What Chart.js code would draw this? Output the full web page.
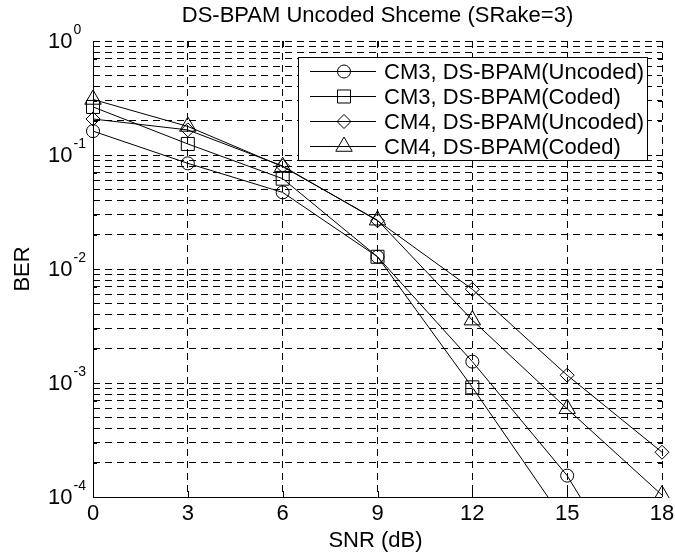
<!DOCTYPE html>
<html>
<head>
<meta charset="utf-8">
<script src="https://cdn.jsdelivr.net/npm/chart.js@4"></script>
<style>
  html, body { margin: 0; padding: 0; background: #fff; }
  #wrap { width: 675px; height: 557px; }
</style>
</head>
<body>
<div id="wrap"><canvas id="ber" width="675" height="557"></canvas></div>
<script>
// values
const snr = [0, 3, 6, 9, 12, 15, 18];
const cm3Uncoded = [0.162, 0.0845, 0.047, 0.0128, 0.00154, 0.000154, 0.0000066];
const cm3Coded = [0.264, 0.125, 0.062, 0.0128, 0.000916, 0.000057, null];
const cm4Uncoded = [0.207, 0.166, 0.080, 0.0265, 0.00664, 0.00117, 0.000247];
const cm4Coded = [0.307, 0.178, 0.079, 0.0268, 0.00356, 0.000594, 0.000104];

const seriesNames = [
    "CM3, DS-BPAM(Uncoded)",
    "CM3, DS-BPAM(Coded)",
    "CM4, DS-BPAM(Uncoded)",
    "CM4, DS-BPAM(Coded)"
];
const xTicks = [0, 3, 6, 9, 12, 15, 18];
const yDecades = [1e-4, 1e-3, 1e-2, 1e-1, 1];
const yExponents = ["-4", "-3", "-2", "-1", "0"];

const FONT = "'Liberation Sans', Arial, sans-serif";

// marker shapes, close to matlab o, s, d, ^
const markers = [
    { pointStyle: "circle", radius: 6.5 },
    { pointStyle: "rect", radius: 9.2 },
    { pointStyle: "rectRot", radius: 7 },
    { pointStyle: "triangle", radius: 9.5 }
];

function makeSet(i, values) {
    return {
        label: seriesNames[i],
        data: snr.map((x, k) => ({ x: x, y: values[k] })),
        borderColor: "#000",
        borderWidth: 1,
        backgroundColor: "rgba(0,0,0,0)",
        pointStyle: markers[i].pointStyle,
        pointRadius: markers[i].radius,
        pointBorderColor: "#000",
        pointBackgroundColor: "rgba(0,0,0,0)",
        pointBorderWidth: 1,
        pointHoverRadius: markers[i].radius,
        tension: 0,
        spanGaps: false,
        clip: { left: 12, top: 12, right: 12, bottom: 1 }
    };
}

// titles, y labels with exponents, ticks, axes and the legend box
const decorPlugin = {
    id: "decor",
    afterDraw(chart) {
        const ctx = chart.ctx;
        const area = chart.chartArea;
        const xs = chart.scales.x;
        const ys = chart.scales.y;
        ctx.save();
        ctx.fillStyle = "#000";
        ctx.strokeStyle = "#000";
        ctx.lineWidth = 1;

        // axis lines, left and bottom solid
        ctx.beginPath();
        ctx.moveTo(Math.round(area.left) + 0.5, area.top);
        ctx.lineTo(Math.round(area.left) + 0.5, Math.round(area.bottom) + 0.5);
        ctx.lineTo(area.right, Math.round(area.bottom) + 0.5);
        ctx.stroke();

        // inward tick marks
        ctx.beginPath();
        xTicks.forEach(v => {
            const px = Math.round(xs.getPixelForValue(v)) + 0.5;
            ctx.moveTo(px, area.bottom); ctx.lineTo(px, area.bottom - 6);
            ctx.moveTo(px, area.top); ctx.lineTo(px, area.top + 6);
        });
        ys.ticks.forEach(t => {
            const py = Math.round(ys.getPixelForValue(t.value)) + 0.5;
            const len = yDecades.includes(t.value) ? 6 : 4;
            ctx.moveTo(area.left, py); ctx.lineTo(area.left + len, py);
            ctx.moveTo(area.right, py); ctx.lineTo(area.right - len, py);
        });
        ctx.stroke();

        // y labels 10^n
        yDecades.forEach((v, i) => {
            const py = ys.getPixelForValue(v);
            ctx.font = "22px " + FONT;
            ctx.textAlign = "left";
            ctx.textBaseline = "alphabetic";
            ctx.fillText("10", 48, py + 7);
            const w = ctx.measureText("10").width;
            ctx.font = "14px " + FONT;
            ctx.fillText(yExponents[i], 48 + w + 1, py - 7);
        });

        // title and axis titles
        const cx = (area.left + area.right) / 2;
        ctx.font = "22px " + FONT;
        ctx.textAlign = "center";
        ctx.textBaseline = "middle";
        ctx.fillText("DS-BPAM Uncoded Shceme (SRake=3)", cx, 16);
        ctx.fillText("SNR (dB)", cx - 2, 541);
        ctx.save();
        ctx.translate(23, (area.top + area.bottom) / 2);
        ctx.rotate(-Math.PI / 2);
        ctx.fillText("BER", 0, 0);
        ctx.restore();

        // legend box
        const bx = 298.5, by = 57.5, bw = 349, bh = 103;
        ctx.fillStyle = "#fff";
        ctx.fillRect(bx, by, bw, bh);
        ctx.strokeRect(bx, by, bw, bh);
        ctx.textAlign = "left";
        ctx.font = "22px " + FONT;
        chart.data.datasets.forEach((ds, i) => {
            const ry = Math.round(71 + i * 25) + 0.5;
            ctx.beginPath();
            ctx.moveTo(310, ry);
            ctx.lineTo(376, ry);
            ctx.stroke();
            ctx.fillStyle = "rgba(0,0,0,0)";
            Chart.helpers.drawPoint(ctx, {
                pointStyle: ds.pointStyle,
                radius: ds.pointRadius,
                rotation: 0,
                borderWidth: 1
            }, 344, ry);
            ctx.fillStyle = "#000";
            ctx.fillText(ds.label, 384, ry + 1);
        });
        ctx.restore();
    }
};

new Chart(document.getElementById("ber"), {
    type: "line",
    data: {
        datasets: [
            makeSet(0, cm3Uncoded),
            makeSet(1, cm3Coded),
            makeSet(2, cm4Uncoded),
            makeSet(3, cm4Coded)
        ]
    },
    options: {
        responsive: false,
        animation: false,
        events: [],
        layout: { padding: { left: 0, right: 13, top: 41, bottom: 0 } },
        plugins: {
            legend: { display: false },
            title: { display: false },
            tooltip: { enabled: false }
        },
        scales: {
            x: {
                type: "linear",
                min: 0,
                max: 18,
                afterBuildTicks: (scale) => { scale.ticks = xTicks.map(v => ({ value: v })); },
                afterFit: (scale) => { scale.height = 60; },
                ticks: {
                    color: "#000",
                    font: { family: FONT, size: 22 },
                    padding: 0,
                    maxRotation: 0,
                    autoSkip: false
                },
                grid: {
                    color: "#000",
                    lineWidth: 1,
                    drawTicks: true,
                    tickLength: 4,
                    tickColor: "rgba(0,0,0,0)"
                },
                border: { display: false, dash: [7, 5] }
            },
            y: {
                type: "logarithmic",
                min: 1e-4,
                max: 1,
                afterBuildTicks: (scale) => {
                    const t = [];
                    yDecades.slice(0, -1).forEach(d => {
                        for (let m = 1; m < 10; m++) t.push({ value: d * m });
                    });
                    t.push({ value: 1 });
                    scale.ticks = t;
                },
                afterFit: (scale) => { scale.width = 93; },
                ticks: { display: false },
                grid: { color: "#000", lineWidth: 1, drawTicks: false },
                border: { display: false, dash: [7, 5] }
            }
        }
    },
    plugins: [decorPlugin]
});
</script>
</body>
</html>
